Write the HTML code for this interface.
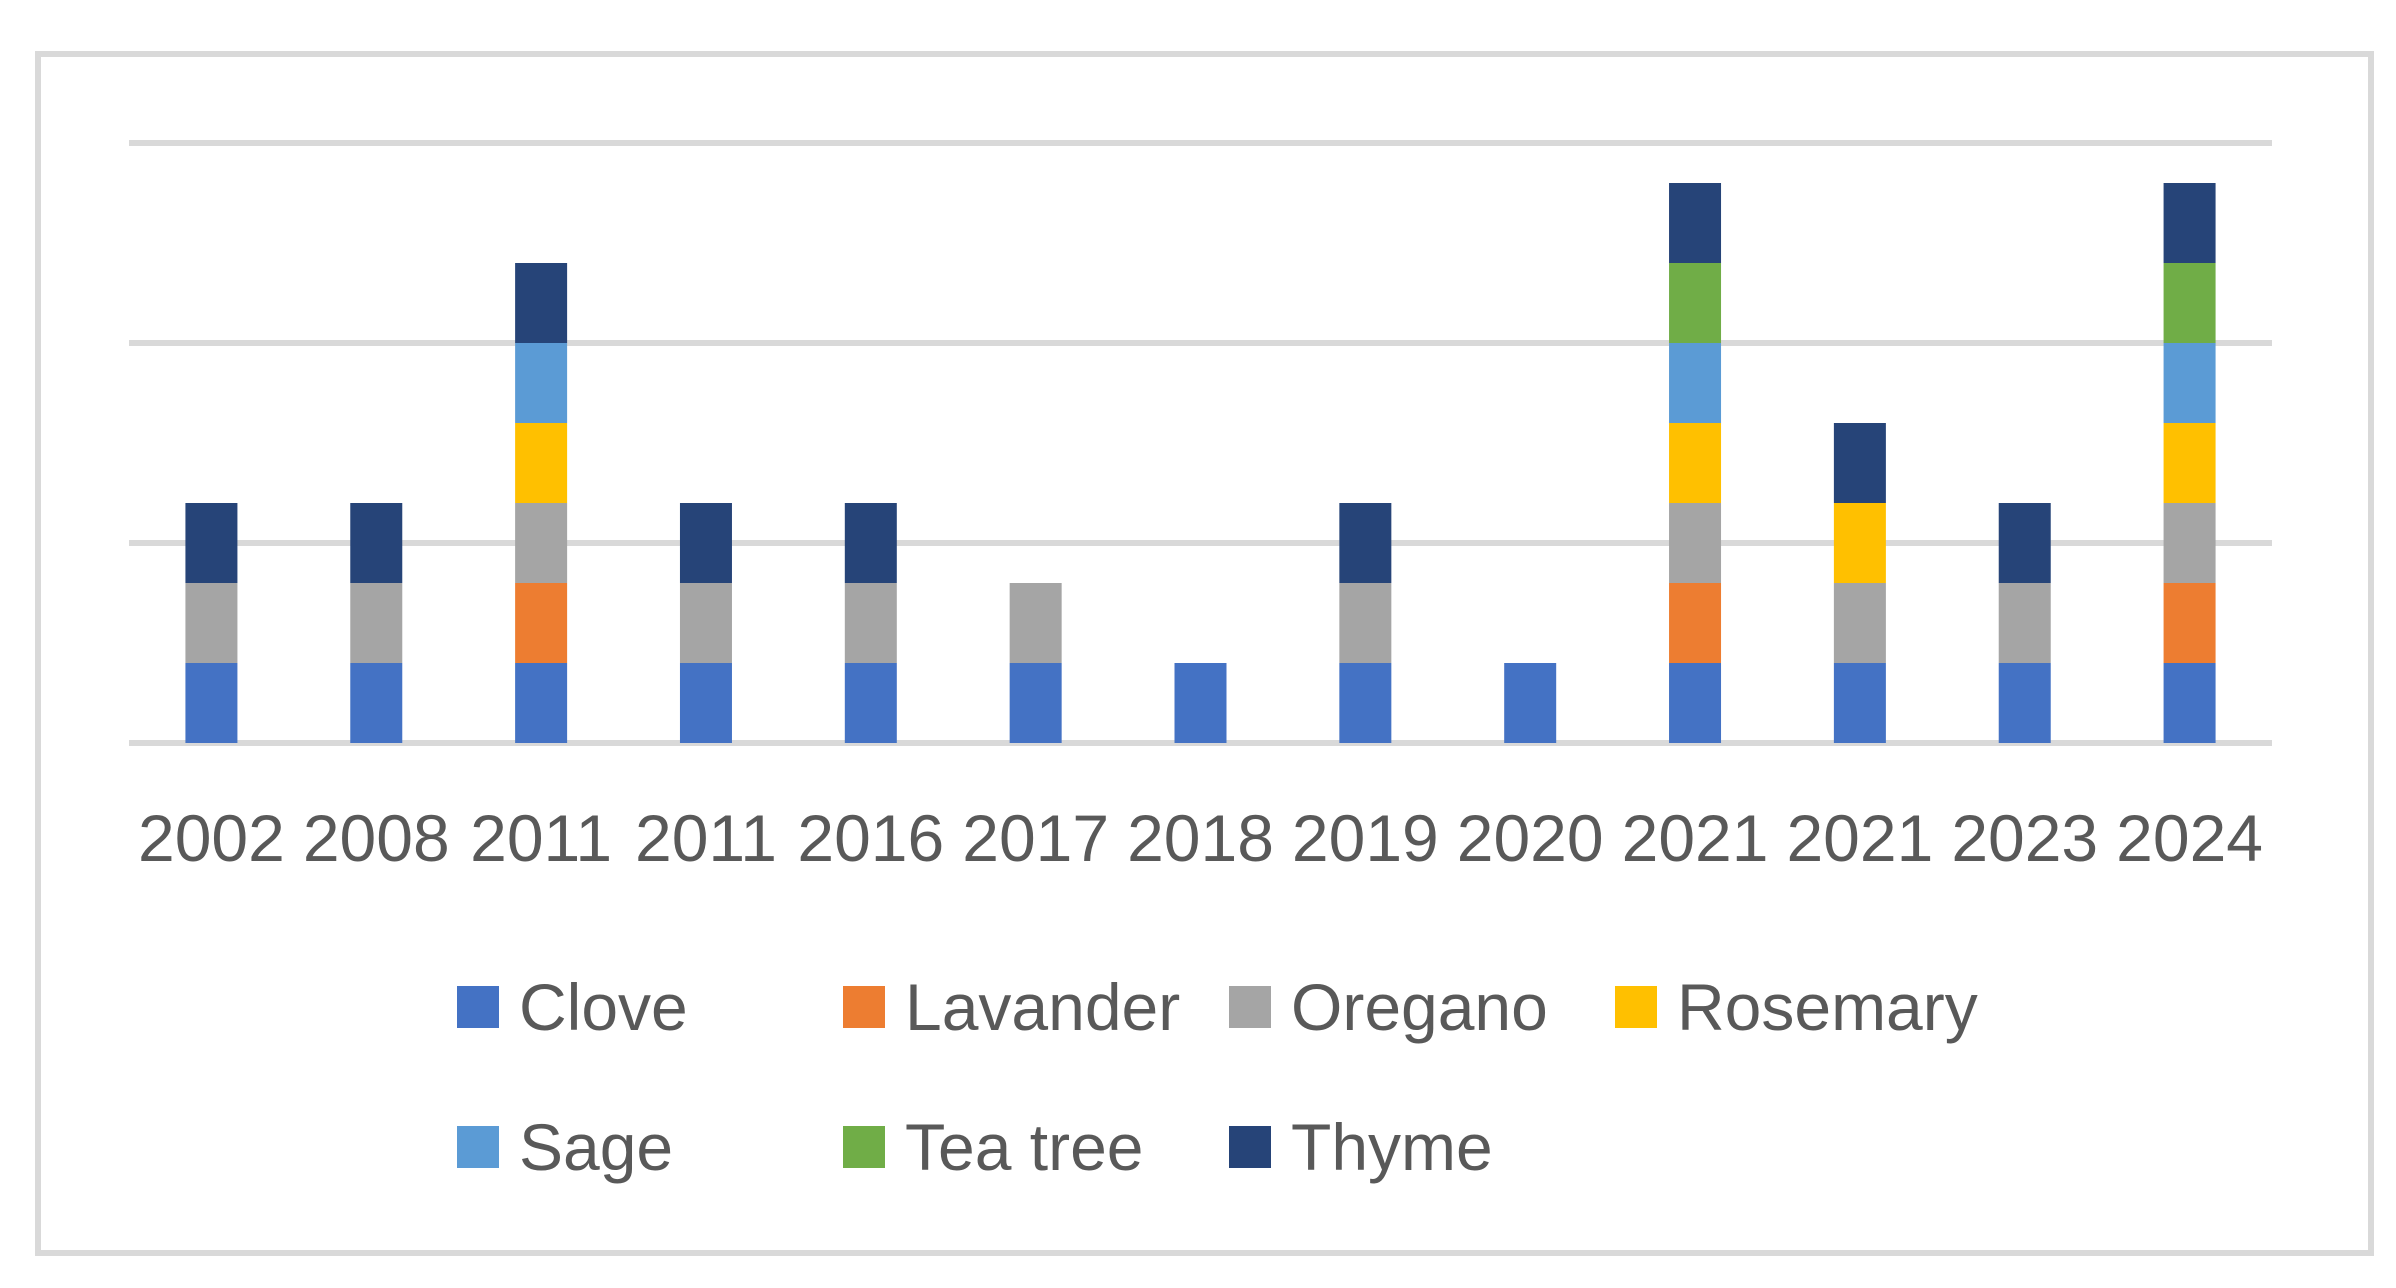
<!DOCTYPE html>
<html><head><meta charset="utf-8"><style>
html,body{margin:0;padding:0;background:#fff;}
svg{display:block;font-family:"Liberation Sans",sans-serif;}
</style></head><body>
<svg id="chart" width="2396" height="1288" viewBox="0 0 2396 1288">
<rect x="38" y="54" width="2333" height="1199" fill="#fff" stroke="#d9d9d9" stroke-width="6"/>
<g id="grid"></g><g id="bars"></g><g id="xlabels"></g><g id="legend"></g>
</svg>
<script>
const categories = ["2002","2008","2011","2011","2016","2017","2018","2019","2020","2021","2021","2023","2024"];
const seriesNames = ["Clove","Lavander","Oregano","Rosemary","Sage","Tea tree","Thyme"];
const seriesColors = ["#4472C4","#ED7D31","#A5A5A5","#FFC000","#5B9BD5","#70AD47","#264478"];
const clove    = [1,1,1,1,1,1,1,1,1,1,1,1,1];
const lavander = [0,0,1,0,0,0,0,0,0,1,0,0,1];
const oregano  = [1,1,1,1,1,1,0,1,0,1,1,1,1];
const rosemary = [0,0,1,0,0,0,0,0,0,1,1,0,1];
const sage     = [0,0,1,0,0,0,0,0,0,1,0,0,1];
const teaTree  = [0,0,0,0,0,0,0,0,0,1,0,0,1];
const thyme    = [1,1,1,1,1,0,0,1,0,1,1,1,1];
const yTicks = [0,2.5,5,7.5];

const seriesValues = [clove,lavander,oregano,rosemary,sage,teaTree,thyme];
const NS="http://www.w3.org/2000/svg";
const plotL=129, plotR=2272, baseY=743, unit=80;
const yScale=v=>baseY-v*unit;
const band=(plotR-plotL)/categories.length;
const xCenter=i=>plotL+band*(i+0.5);
const barW=52;
function mk(tag,attrs,parent){const e=document.createElementNS(NS,tag);for(const k in attrs)e.setAttribute(k,attrs[k]);parent.appendChild(e);return e;}
const grid=document.getElementById('grid');
yTicks.forEach(t=>{
  const l=mk('line',{x1:plotL,x2:plotR,y1:yScale(t),y2:yScale(t),stroke:'#d9d9d9','stroke-width':6},grid);
  
  
});
const bars=document.getElementById('bars');
categories.forEach((c,i)=>{
  let acc=0;
  seriesValues.forEach((arr,s)=>{
    const v=arr[i]; if(!v) return;
    const r=mk('rect',{x:xCenter(i)-barW/2,y:yScale(acc+v),width:barW,height:v*unit,fill:seriesColors[s]},bars);
    
    
    acc+=v;
  });
});
const xl=document.getElementById('xlabels');
categories.forEach((c,i)=>{
  const t=mk('text',{x:xCenter(i),y:861,'text-anchor':'middle','font-size':66,fill:'#595959'},xl);
  t.textContent=c;
  
  
});
const lg=document.getElementById('legend');
seriesNames.forEach((n,s)=>{
  const col=s%4,row=Math.floor(s/4);
  const x=457+col*386, cy=1007+row*140;
  const g=mk('g',{},lg);
  
  
  mk('rect',{x:x,y:cy-21,width:42,height:42,fill:seriesColors[s]},g);
  const t=mk('text',{x:x+62,y:cy+23,'font-size':66,fill:'#595959'},g);
  t.textContent=n;
});
</script>
</body></html>
